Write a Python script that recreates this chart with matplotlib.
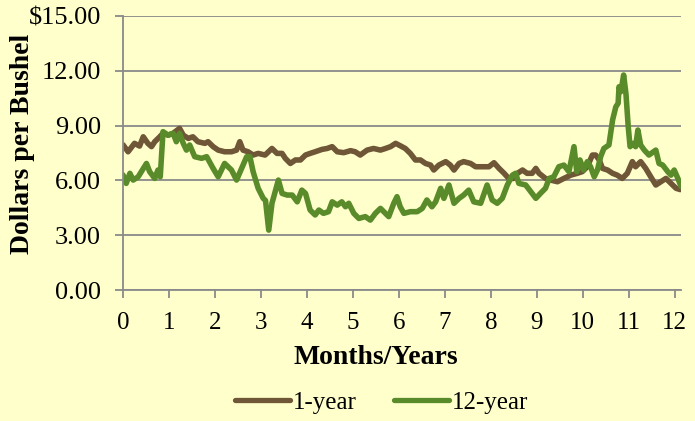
import matplotlib
matplotlib.use("Agg")
import matplotlib.pyplot as plt
from matplotlib.ticker import FuncFormatter

# ── Data ───────────────────────────────────────────────────────
one_year_x = [0.00, 0.11, 0.25, 0.36, 0.44, 0.54, 0.62, 0.69, 0.80, 0.87, 0.98, 1.09,
              1.23, 1.31, 1.42, 1.52, 1.63, 1.78, 1.85, 1.96, 2.07, 2.21, 2.36, 2.47,
              2.54, 2.61, 2.72, 2.83, 2.94, 3.09, 3.24, 3.35, 3.46, 3.53, 3.64, 3.75,
              3.86, 3.97, 4.07, 4.18, 4.33, 4.44, 4.55, 4.66, 4.80, 4.95, 5.05, 5.16,
              5.31, 5.45, 5.60, 5.71, 5.82, 5.93, 6.03, 6.14, 6.25, 6.36, 6.47, 6.58,
              6.69, 6.76, 6.87, 7.02, 7.12, 7.20, 7.31, 7.41, 7.56, 7.67, 7.81, 7.96,
              8.07, 8.18, 8.29, 8.39, 8.50, 8.58, 8.69, 8.79, 8.90, 8.98, 9.05, 9.19,
              9.30, 9.45, 9.59, 9.74, 9.88, 9.99, 10.10, 10.21, 10.28, 10.36, 10.43,
              10.54, 10.65, 10.75, 10.86, 10.97, 11.08, 11.15, 11.26, 11.37, 11.48,
              11.59, 11.70, 11.81, 11.92, 12.03, 12.12]
one_year_y = [7.95, 7.57, 8.03, 7.88, 8.39, 8.03, 7.85, 8.12, 8.39, 8.58, 8.48, 8.58,
              8.85, 8.48, 8.30, 8.39, 8.12, 8.03, 8.12, 7.85, 7.66, 7.57, 7.57, 7.66,
              8.12, 7.66, 7.57, 7.39, 7.48, 7.39, 7.75, 7.48, 7.48, 7.21, 6.93, 7.12,
              7.12, 7.39, 7.48, 7.57, 7.70, 7.75, 7.85, 7.57, 7.52, 7.63, 7.57, 7.39,
              7.66, 7.75, 7.66, 7.75, 7.85, 8.03, 7.90, 7.75, 7.48, 7.12, 7.12, 6.93,
              6.84, 6.57, 6.84, 7.03, 6.84, 6.57, 6.93, 7.03, 6.93, 6.75, 6.75, 6.75,
              6.97, 6.66, 6.39, 6.11, 6.11, 6.39, 6.57, 6.39, 6.39, 6.66, 6.39, 6.11,
              6.02, 5.93, 6.11, 6.29, 6.39, 6.48, 6.75, 7.39, 7.39, 7.12, 6.66,
              6.57, 6.39, 6.29, 6.11, 6.39, 7.03, 6.75, 7.03, 6.66, 6.20,
              5.75, 5.93, 6.11, 5.84, 5.57, 5.50]

twelve_year_x = [0.00, 0.07, 0.15, 0.22, 0.33, 0.40, 0.51, 0.58, 0.69, 0.76, 0.81, 0.87,
                 0.98, 1.09, 1.16, 1.23, 1.31, 1.38, 1.45, 1.56, 1.71, 1.82, 1.96, 2.07,
                 2.21, 2.36, 2.47, 2.58, 2.69, 2.76, 2.83, 2.94, 3.05, 3.10, 3.17, 3.24,
                 3.38, 3.46, 3.57, 3.68, 3.79, 3.89, 3.97, 4.07, 4.18, 4.26, 4.36, 4.47,
                 4.55, 4.66, 4.76, 4.84, 4.91, 5.02, 5.13, 5.27, 5.38, 5.49, 5.60, 5.71,
                 5.78, 5.89, 5.96, 6.03, 6.11, 6.25, 6.40, 6.51, 6.61, 6.72, 6.80, 6.91,
                 6.98, 7.09, 7.20, 7.31, 7.41, 7.52, 7.63, 7.78, 7.92, 8.03, 8.14, 8.25,
                 8.36, 8.47, 8.54, 8.61, 8.76, 8.87, 8.98, 9.08, 9.19, 9.27, 9.37, 9.48,
                 9.59, 9.70, 9.81, 9.87, 9.94, 10.02, 10.10, 10.17, 10.25, 10.32, 10.39,
                 10.46, 10.57, 10.65, 10.72, 10.77, 10.79, 10.83, 10.89, 10.94, 10.99,
                 11.03, 11.10, 11.15, 11.20, 11.26, 11.34, 11.44, 11.59, 11.66, 11.74,
                 11.85, 11.92, 11.99, 12.07, 12.14]
twelve_year_y = [6.30, 5.84, 6.39, 6.02, 6.20, 6.48, 6.93, 6.48, 6.11, 6.57, 6.20, 8.67,
                 8.48, 8.58, 8.12, 8.58, 8.03, 7.66, 7.94, 7.30, 7.21, 7.30, 6.66, 6.20,
                 6.93, 6.57, 6.02, 6.66, 7.30, 7.30, 6.48, 5.57, 5.02, 4.90, 3.28, 4.75,
                 6.02, 5.29, 5.20, 5.20, 4.83, 5.47, 5.29, 4.38, 4.11, 4.38, 4.20, 4.29,
                 4.83, 4.65, 4.83, 4.56, 4.75, 4.20, 3.92, 4.02, 3.83, 4.20, 4.47, 4.20,
                 4.02, 4.75, 5.11, 4.56, 4.20, 4.29, 4.29, 4.47, 4.93, 4.56, 4.83, 5.57,
                 5.02, 5.75, 4.75, 5.02, 5.20, 5.47, 4.83, 4.75, 5.75, 4.93, 4.75, 5.02,
                 5.75, 6.29, 6.39, 5.84, 5.75, 5.38, 5.02, 5.29, 5.57, 6.11, 6.20, 6.75,
                 6.84, 6.48, 7.85, 6.48, 7.12, 6.57, 7.03, 6.75, 6.20, 6.57, 7.30,
                 7.75, 7.94, 9.31, 10.03, 10.22, 11.13, 10.86, 11.77, 10.76, 8.94,
                 7.85, 8.03, 7.85, 8.76, 7.94, 7.66, 7.39, 7.66, 6.93, 6.84,
                 6.48, 6.29, 6.57, 6.11, 5.66]

x_ticks = list(range(13))
y_ticks = [0, 3, 6, 9, 12, 15]

# ── Style ──────────────────────────────────────────────────────
BG     = '#FFFFCC'
BROWN  = '#6E5637'
GREEN  = '#5A8B2A'
GRID   = '#8A8A8A'

plt.rcParams['font.family'] = 'Liberation Serif'

fig = plt.figure(figsize=(6.95, 4.21), dpi=100, facecolor=BG)
ax = fig.add_axes([0.177, 0.311, 0.803, 0.651])
ax.set_facecolor(BG)

ax.plot(one_year_x, one_year_y, color=BROWN, linewidth=4.0,
        solid_joinstyle='round', solid_capstyle='round', label='1-year')
ax.plot(twelve_year_x, twelve_year_y, color=GREEN, linewidth=4.0,
        solid_joinstyle='round', solid_capstyle='round', label='12-year')

ax.set_xlim(0, 12.14)
ax.set_ylim(0, 15)
ax.set_xticks(x_ticks)
ax.set_yticks(y_ticks)
ax.yaxis.set_major_formatter(FuncFormatter(
    lambda v, _: f'${v:.2f}' if v == 15 else f'{v:.2f}'))

ax.grid(True, axis='y', color=GRID, linewidth=1.3)
ax.set_axisbelow(True)
for side in ('top', 'right'):
    ax.spines[side].set_visible(False)
for side in ('left', 'bottom'):
    ax.spines[side].set_color(GRID)
    ax.spines[side].set_linewidth(1.3)

ax.tick_params(axis='both', colors=GRID, length=6, width=1.3,
               labelcolor='black', labelsize=18)
ax.tick_params(axis='y', pad=10, labelsize=19)
ax.tick_params(axis='x', pad=10)

ax.set_xlabel('Months/Years', fontsize=20, fontweight='bold', va='center')
ax.xaxis.set_label_coords(0.453, -0.245)
ax.set_ylabel('Dollars per Bushel', fontsize=20, fontweight='bold', va='center')
ax.yaxis.set_label_coords(-0.181, 0.533)

leg = fig.legend(loc='center', bbox_to_anchor=(0.549, 0.043), ncol=2, frameon=False,
                 fontsize=18, handlelength=2.2, handletextpad=0.1, columnspacing=1.5)
for line in leg.get_lines():
    line.set_linewidth(3.8)

fig.savefig('out.png', dpi=100, facecolor=BG)
